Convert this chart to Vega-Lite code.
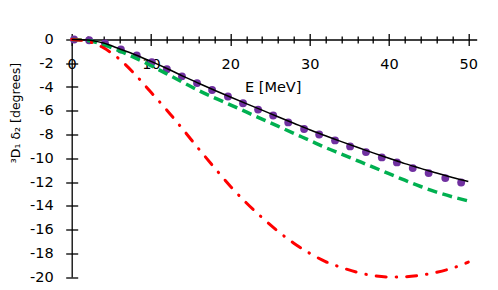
{
  "$schema": "https://vega.github.io/schema/vega-lite/v6.json",
  "width": 405,
  "height": 237.5,
  "autosize": {"type": "none"},
  "padding": {"left": 71.7, "top": 39.5, "right": 21.3, "bottom": 13},
  "config": {
    "view": {"stroke": null},
    "font": "DejaVu Sans",
    "axis": {"grid": false, "labelColor": "black", "titleColor": "black", "domainColor": "black", "tickColor": "black", "gridColor": "black", "labelFontSize": 14.5, "titleFontWeight": "normal", "labelFont": "DejaVu Sans", "titleFont": "DejaVu Sans"}
  },
  "datasets": {
    "dots": [
      {"E": 0.3, "phase": 0}, {"E": 2.2, "phase": -0.06}, {"E": 4.2, "phase": -0.34}, {"E": 6.2, "phase": -0.84},
      {"E": 8.2, "phase": -1.35}, {"E": 10.1, "phase": -1.9}, {"E": 12.0, "phase": -2.5}, {"E": 13.9, "phase": -3.1},
      {"E": 15.8, "phase": -3.67}, {"E": 17.7, "phase": -4.25}, {"E": 19.7, "phase": -4.8}, {"E": 21.6, "phase": -5.37},
      {"E": 23.5, "phase": -5.9}, {"E": 25.4, "phase": -6.4}, {"E": 27.3, "phase": -6.98}, {"E": 29.3, "phase": -7.54},
      {"E": 31.2, "phase": -8.0}, {"E": 33.2, "phase": -8.5}, {"E": 35.1, "phase": -9.0}, {"E": 37.1, "phase": -9.48},
      {"E": 39.1, "phase": -9.93}, {"E": 41.0, "phase": -10.35}, {"E": 43.0, "phase": -10.83}, {"E": 45.0, "phase": -11.25},
      {"E": 47.1, "phase": -11.67}, {"E": 49.1, "phase": -12.04}
    ],
    "curves": [
      {"E": 0, "model": "black", "phase": 0}, {"E": 2, "model": "black", "phase": -0.04}, {"E": 4, "model": "black", "phase": -0.3},
      {"E": 6, "model": "black", "phase": -0.78}, {"E": 8, "model": "black", "phase": -1.28}, {"E": 10, "model": "black", "phase": -1.84},
      {"E": 12, "model": "black", "phase": -2.44}, {"E": 14, "model": "black", "phase": -3.08}, {"E": 16, "model": "black", "phase": -3.68},
      {"E": 18, "model": "black", "phase": -4.27}, {"E": 20, "model": "black", "phase": -4.84}, {"E": 22, "model": "black", "phase": -5.4},
      {"E": 24, "model": "black", "phase": -5.95}, {"E": 26, "model": "black", "phase": -6.5}, {"E": 28, "model": "black", "phase": -7.05},
      {"E": 30, "model": "black", "phase": -7.6}, {"E": 32, "model": "black", "phase": -8.1}, {"E": 34, "model": "black", "phase": -8.6},
      {"E": 36, "model": "black", "phase": -9.08}, {"E": 38, "model": "black", "phase": -9.55}, {"E": 40, "model": "black", "phase": -10.0},
      {"E": 42, "model": "black", "phase": -10.45}, {"E": 44, "model": "black", "phase": -10.85}, {"E": 46, "model": "black", "phase": -11.25},
      {"E": 48, "model": "black", "phase": -11.62}, {"E": 50, "model": "black", "phase": -11.96},
      {"E": 0, "model": "green", "phase": 0}, {"E": 2, "model": "green", "phase": -0.08}, {"E": 4, "model": "green", "phase": -0.42},
      {"E": 6, "model": "green", "phase": -0.95}, {"E": 8, "model": "green", "phase": -1.55}, {"E": 10, "model": "green", "phase": -2.2},
      {"E": 12, "model": "green", "phase": -2.9}, {"E": 14, "model": "green", "phase": -3.6}, {"E": 16, "model": "green", "phase": -4.3},
      {"E": 18, "model": "green", "phase": -4.92}, {"E": 20, "model": "green", "phase": -5.5}, {"E": 22, "model": "green", "phase": -6.1},
      {"E": 24, "model": "green", "phase": -6.7}, {"E": 26, "model": "green", "phase": -7.3}, {"E": 28, "model": "green", "phase": -7.9},
      {"E": 30, "model": "green", "phase": -8.5}, {"E": 32, "model": "green", "phase": -9.1}, {"E": 34, "model": "green", "phase": -9.65},
      {"E": 36, "model": "green", "phase": -10.2}, {"E": 38, "model": "green", "phase": -10.75}, {"E": 40, "model": "green", "phase": -11.3},
      {"E": 42, "model": "green", "phase": -11.85}, {"E": 44, "model": "green", "phase": -12.38}, {"E": 46, "model": "green", "phase": -12.85},
      {"E": 48, "model": "green", "phase": -13.25}, {"E": 50, "model": "green", "phase": -13.6},
      {"E": 0, "model": "red", "phase": 0}, {"E": 2, "model": "red", "phase": -0.15}, {"E": 4, "model": "red", "phase": -0.7},
      {"E": 6, "model": "red", "phase": -1.65}, {"E": 8, "model": "red", "phase": -2.95}, {"E": 10, "model": "red", "phase": -4.45},
      {"E": 12, "model": "red", "phase": -5.95}, {"E": 14, "model": "red", "phase": -7.55}, {"E": 16, "model": "red", "phase": -9.2},
      {"E": 18, "model": "red", "phase": -10.8}, {"E": 20, "model": "red", "phase": -12.35}, {"E": 22, "model": "red", "phase": -13.75},
      {"E": 24, "model": "red", "phase": -15.0}, {"E": 26, "model": "red", "phase": -16.15}, {"E": 28, "model": "red", "phase": -17.15},
      {"E": 30, "model": "red", "phase": -18.0}, {"E": 32, "model": "red", "phase": -18.7}, {"E": 34, "model": "red", "phase": -19.2},
      {"E": 36, "model": "red", "phase": -19.6}, {"E": 38, "model": "red", "phase": -19.88}, {"E": 40, "model": "red", "phase": -20.0},
      {"E": 42, "model": "red", "phase": -19.98}, {"E": 44, "model": "red", "phase": -19.85}, {"E": 46, "model": "red", "phase": -19.6},
      {"E": 48, "model": "red", "phase": -19.25}, {"E": 50, "model": "red", "phase": -18.75}
    ]
  },
  "layer": [
    {
      "data": {"name": "dots"},
      "mark": {"type": "circle", "size": 62, "color": "#7030A0", "opacity": 1},
      "encoding": {
        "x": {"field": "E", "type": "quantitative", "scale": {"domain": [0, 51.06], "nice": false, "zero": false},
          "axis": {"orient": "bottom", "offset": -243.5, "domain": false, "values": [0, 2, 4, 6, 8, 10, 12, 14, 16, 18, 20, 22, 24, 26, 28, 30, 32, 34, 36, 38, 40, 42, 44, 46, 48, 50], "ticks": true, "tickSize": 12, "tickWidth": 1.3, "tickDash": {"condition": {"test": "datum.value % 10 !== 0", "value": [0, 2.5, 7, 20]}, "value": [20, 1]}, "grid": true, "gridWidth": 1.3, "gridColor": "black", "gridOpacity": {"condition": {"test": "datum.value === 0", "value": 1}, "value": 0}, "labelExpr": "datum.value % 10 === 0 ? datum.label : ''", "labelPadding": 12, "labelFlush": false, "labelOverlap": false, "title": "E [MeV]", "titleFontSize": 14.5, "titleX": 201, "titleY": 58, "titleAlign": "center", "titleBaseline": "alphabetic", "titleAnchor": null}},
        "y": {"field": "phase", "type": "quantitative", "scale": {"domain": [-20, 0], "nice": false, "zero": false},
          "axis": {"orient": "left", "offset": -6, "domain": false, "values": [0, -2, -4, -6, -8, -10, -12, -14, -16, -18, -20], "ticks": true, "tickSize": 12, "tickWidth": 1.3, "labelPadding": 12.5, "grid": true, "gridWidth": 1.3, "gridColor": "black", "gridOpacity": {"condition": {"test": "datum.value === 0", "value": 1}, "value": 0}, "labelExpr": "replace(datum.label, '\u2212', '-')", "labelFlush": false, "labelOverlap": false, "title": "³D₁ δ₂ [degrees]", "titleFontSize": 12.5, "titleAngle": 270, "titleX": -62, "titleY": 73, "titleAlign": "center", "titleBaseline": "middle", "titleAnchor": null}}
      }
    },
    {
      "data": {"name": "curves"},
      "transform": [{"filter": "datum.model === 'green'"}],
      "mark": {"type": "line", "color": "#00B050", "strokeWidth": 3.5, "strokeDash": [10, 5.5], "interpolate": "monotone"},
      "encoding": {
        "x": {"field": "E", "type": "quantitative", "scale": {"domain": [0, 51.06], "nice": false, "zero": false},
          "axis": {"orient": "bottom", "offset": -243.5, "domain": false, "values": [0, 2, 4, 6, 8, 10, 12, 14, 16, 18, 20, 22, 24, 26, 28, 30, 32, 34, 36, 38, 40, 42, 44, 46, 48, 50], "ticks": true, "tickSize": 12, "tickWidth": 1.3, "tickDash": {"condition": {"test": "datum.value % 10 !== 0", "value": [0, 2.5, 7, 20]}, "value": [20, 1]}, "grid": true, "gridWidth": 1.3, "gridColor": "black", "gridOpacity": {"condition": {"test": "datum.value === 0", "value": 1}, "value": 0}, "labelExpr": "datum.value % 10 === 0 ? datum.label : ''", "labelPadding": 12, "labelFlush": false, "labelOverlap": false, "title": "E [MeV]", "titleFontSize": 14.5, "titleX": 201, "titleY": 58, "titleAlign": "center", "titleBaseline": "alphabetic", "titleAnchor": null}},
        "y": {"field": "phase", "type": "quantitative", "scale": {"domain": [-20, 0], "nice": false, "zero": false},
          "axis": {"orient": "left", "offset": -6, "domain": false, "values": [0, -2, -4, -6, -8, -10, -12, -14, -16, -18, -20], "ticks": true, "tickSize": 12, "tickWidth": 1.3, "labelPadding": 12.5, "grid": true, "gridWidth": 1.3, "gridColor": "black", "gridOpacity": {"condition": {"test": "datum.value === 0", "value": 1}, "value": 0}, "labelExpr": "replace(datum.label, '\u2212', '-')", "labelFlush": false, "labelOverlap": false, "title": "³D₁ δ₂ [degrees]", "titleFontSize": 12.5, "titleAngle": 270, "titleX": -62, "titleY": 73, "titleAlign": "center", "titleBaseline": "middle", "titleAnchor": null}}
      }
    },
    {
      "data": {"name": "curves"},
      "transform": [{"filter": "datum.model === 'red'"}],
      "mark": {"type": "line", "color": "#FF0000", "strokeWidth": 3, "strokeDash": [10, 10, 0.5, 10], "strokeCap": "round", "interpolate": "monotone"},
      "encoding": {
        "x": {"field": "E", "type": "quantitative", "scale": {"domain": [0, 51.06], "nice": false, "zero": false},
          "axis": {"orient": "bottom", "offset": -243.5, "domain": false, "values": [0, 2, 4, 6, 8, 10, 12, 14, 16, 18, 20, 22, 24, 26, 28, 30, 32, 34, 36, 38, 40, 42, 44, 46, 48, 50], "ticks": true, "tickSize": 12, "tickWidth": 1.3, "tickDash": {"condition": {"test": "datum.value % 10 !== 0", "value": [0, 2.5, 7, 20]}, "value": [20, 1]}, "grid": true, "gridWidth": 1.3, "gridColor": "black", "gridOpacity": {"condition": {"test": "datum.value === 0", "value": 1}, "value": 0}, "labelExpr": "datum.value % 10 === 0 ? datum.label : ''", "labelPadding": 12, "labelFlush": false, "labelOverlap": false, "title": "E [MeV]", "titleFontSize": 14.5, "titleX": 201, "titleY": 58, "titleAlign": "center", "titleBaseline": "alphabetic", "titleAnchor": null}},
        "y": {"field": "phase", "type": "quantitative", "scale": {"domain": [-20, 0], "nice": false, "zero": false},
          "axis": {"orient": "left", "offset": -6, "domain": false, "values": [0, -2, -4, -6, -8, -10, -12, -14, -16, -18, -20], "ticks": true, "tickSize": 12, "tickWidth": 1.3, "labelPadding": 12.5, "grid": true, "gridWidth": 1.3, "gridColor": "black", "gridOpacity": {"condition": {"test": "datum.value === 0", "value": 1}, "value": 0}, "labelExpr": "replace(datum.label, '\u2212', '-')", "labelFlush": false, "labelOverlap": false, "title": "³D₁ δ₂ [degrees]", "titleFontSize": 12.5, "titleAngle": 270, "titleX": -62, "titleY": 73, "titleAlign": "center", "titleBaseline": "middle", "titleAnchor": null}}
      }
    },
    {
      "data": {"name": "curves"},
      "transform": [{"filter": "datum.model === 'black'"}],
      "mark": {"type": "line", "color": "black", "strokeWidth": 1.5, "interpolate": "monotone"},
      "encoding": {
        "x": {"field": "E", "type": "quantitative", "scale": {"domain": [0, 51.06], "nice": false, "zero": false},
          "axis": {"orient": "bottom", "offset": -243.5, "domain": false, "values": [0, 2, 4, 6, 8, 10, 12, 14, 16, 18, 20, 22, 24, 26, 28, 30, 32, 34, 36, 38, 40, 42, 44, 46, 48, 50], "ticks": true, "tickSize": 12, "tickWidth": 1.3, "tickDash": {"condition": {"test": "datum.value % 10 !== 0", "value": [0, 2.5, 7, 20]}, "value": [20, 1]}, "grid": true, "gridWidth": 1.3, "gridColor": "black", "gridOpacity": {"condition": {"test": "datum.value === 0", "value": 1}, "value": 0}, "labelExpr": "datum.value % 10 === 0 ? datum.label : ''", "labelPadding": 12, "labelFlush": false, "labelOverlap": false, "title": "E [MeV]", "titleFontSize": 14.5, "titleX": 201, "titleY": 58, "titleAlign": "center", "titleBaseline": "alphabetic", "titleAnchor": null}},
        "y": {"field": "phase", "type": "quantitative", "scale": {"domain": [-20, 0], "nice": false, "zero": false},
          "axis": {"orient": "left", "offset": -6, "domain": false, "values": [0, -2, -4, -6, -8, -10, -12, -14, -16, -18, -20], "ticks": true, "tickSize": 12, "tickWidth": 1.3, "labelPadding": 12.5, "grid": true, "gridWidth": 1.3, "gridColor": "black", "gridOpacity": {"condition": {"test": "datum.value === 0", "value": 1}, "value": 0}, "labelExpr": "replace(datum.label, '\u2212', '-')", "labelFlush": false, "labelOverlap": false, "title": "³D₁ δ₂ [degrees]", "titleFontSize": 12.5, "titleAngle": 270, "titleX": -62, "titleY": 73, "titleAlign": "center", "titleBaseline": "middle", "titleAnchor": null}}
      }
    }
  ]
}
